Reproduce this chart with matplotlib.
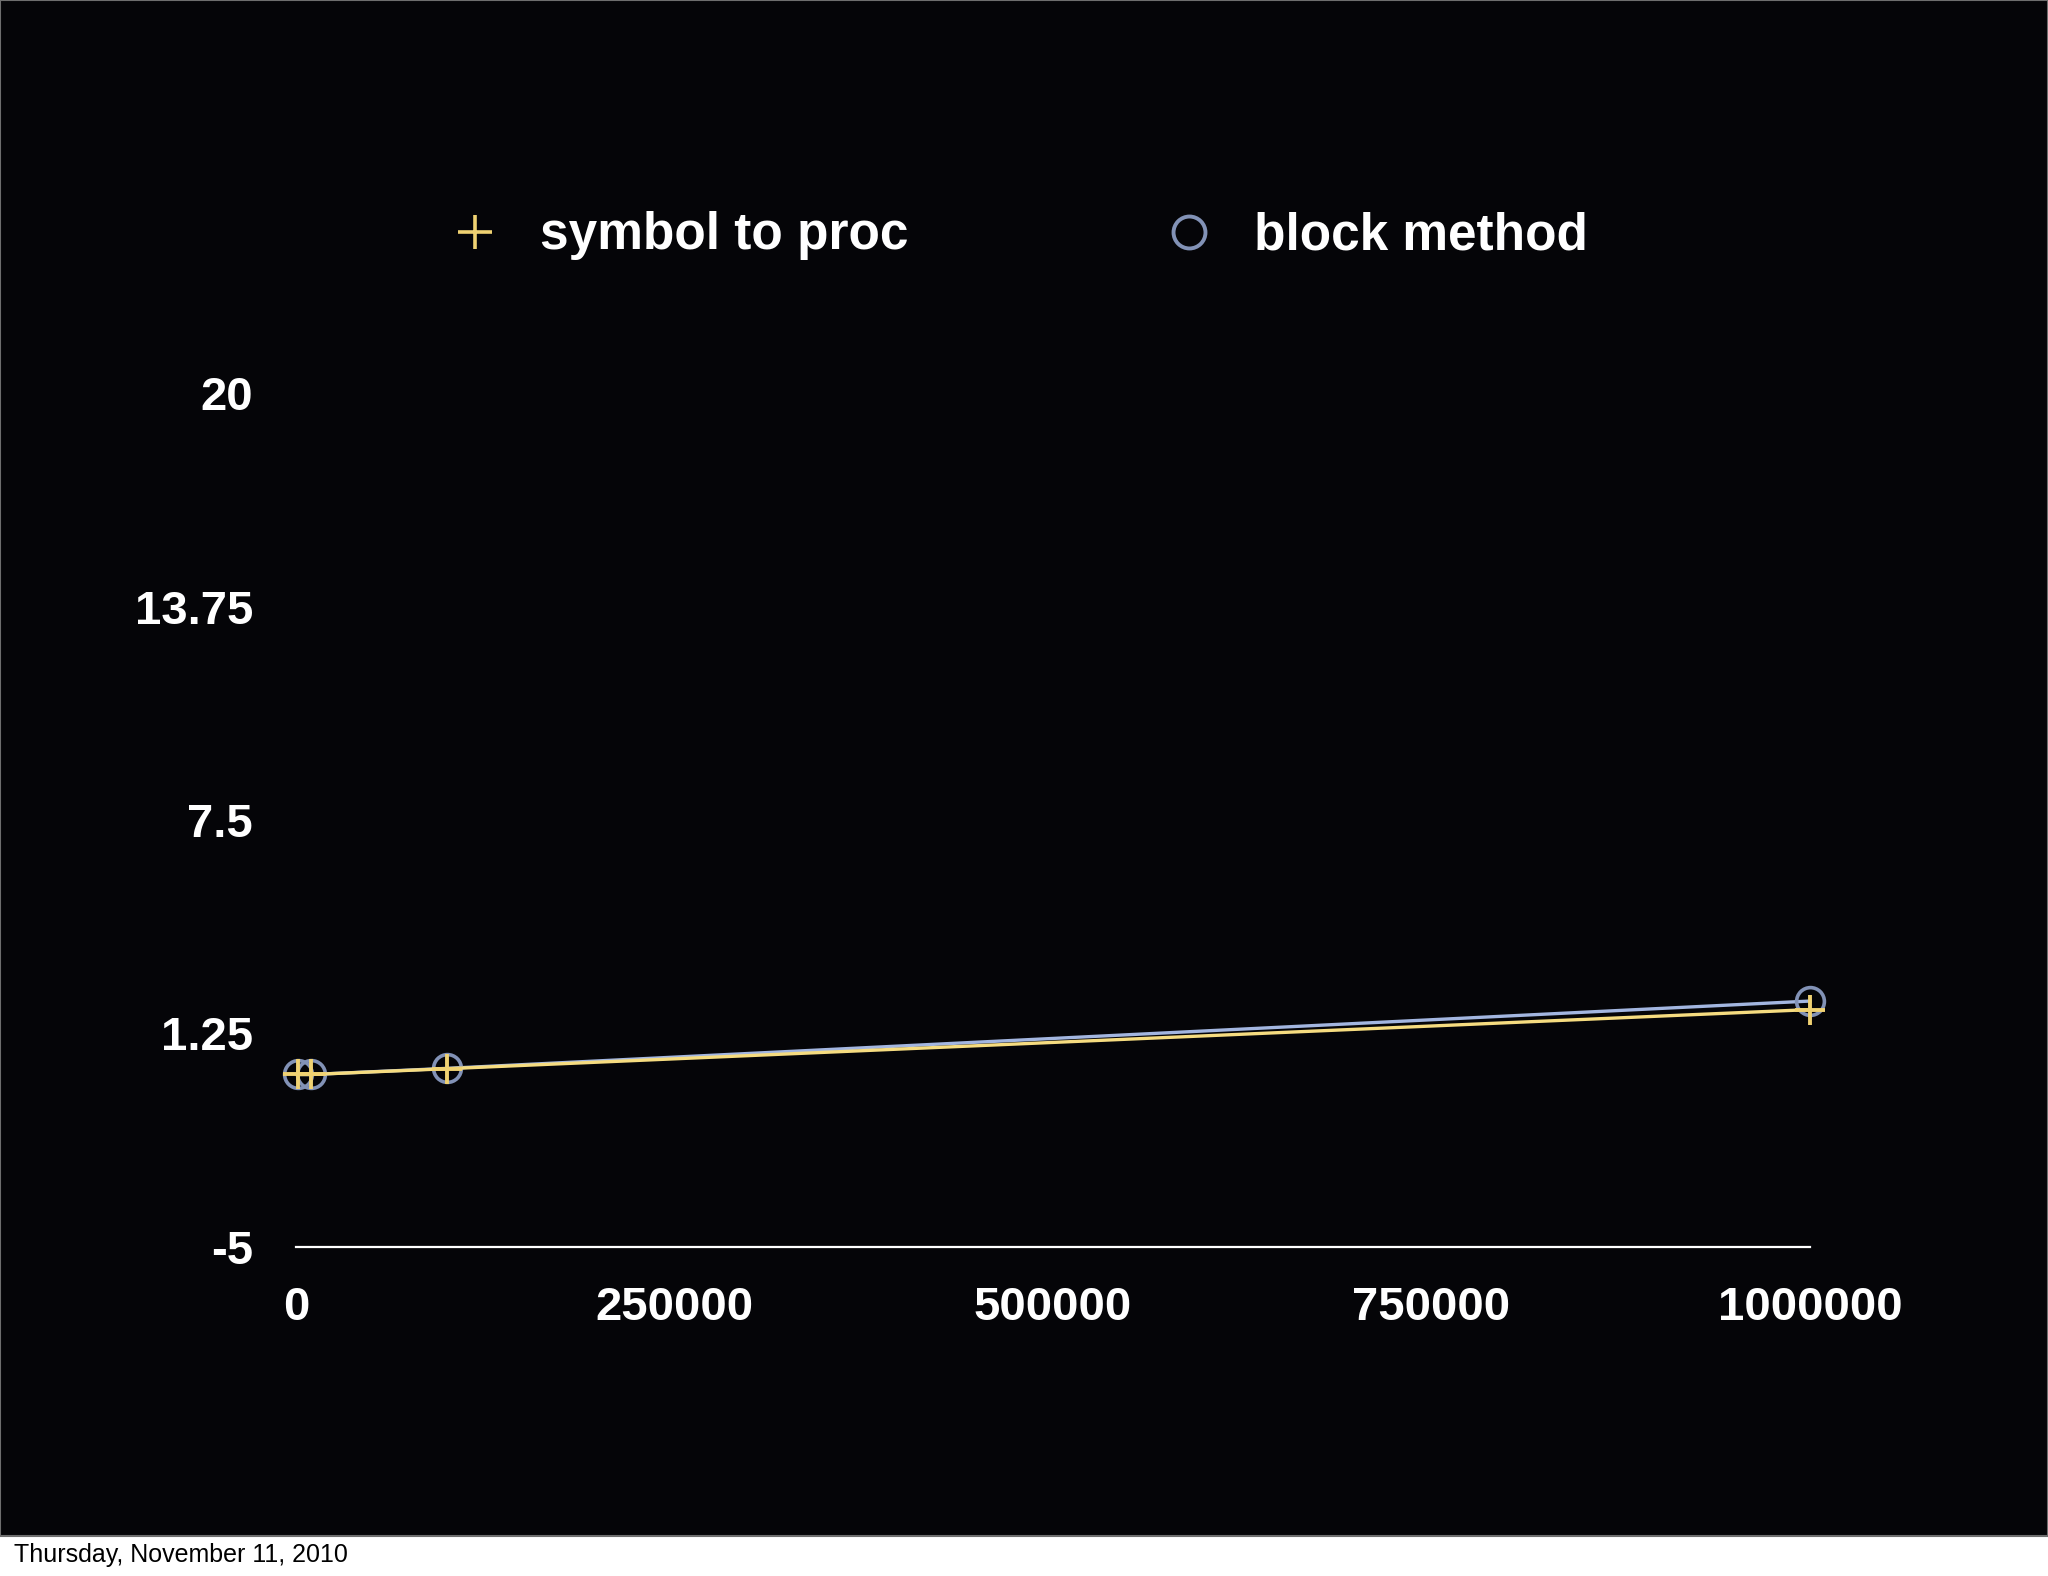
import matplotlib
matplotlib.use("Agg")
import matplotlib.pyplot as plt
from matplotlib.lines import Line2D
from matplotlib.patches import Rectangle

plt.rcParams['font.family'] = ['Liberation Sans', 'DejaVu Sans']

# data
sizes = [1000, 10000, 100000, 1000000]
symbol_to_proc = [0.05, 0.05, 0.22, 1.95]
block_method = [0.05, 0.05, 0.23, 2.2]
y_ticks = [-5, 1.25, 7.5, 13.75, 20]
y_labels = ['-5', '1.25', '7.5', '13.75', '20']
x_ticks = [0, 250000, 500000, 750000, 1000000]
x_labels = ['0', '250000', '500000', '750000', '1000000']
footer = 'Thursday, November 11, 2010'

W, H = 2048, 1576
fig = plt.figure(figsize=(W / 100, H / 100), dpi=100, facecolor='white')

# black slide area + footer strip
fig.patches.append(Rectangle((0, 40 / H), 1, 1 - 40 / H, transform=fig.transFigure,
                             facecolor='#050508', edgecolor='#6e6e6e', linewidth=1.5, zorder=-5))
fig.text(14 / W, 1 - 1555 / H, footer, fontsize=18, color='black', va='center', ha='left')

ax = fig.add_axes([296 / W, 1 - 1247 / H, (1810 - 296) / W, (1247 - 393) / H])
ax.set_facecolor('none')
ax.set_zorder(2)

blue_line = '#a3b6e0'
blue_mark = '#8292b6'
yellow_line = '#f6dc80'
yellow_mark = '#f0d272'

ax.plot(sizes, block_method, color=blue_line, lw=2.4, zorder=3, clip_on=False)
ax.plot(sizes, block_method, ls='none', marker='o', ms=20, mfc='none',
        mec=blue_mark, mew=2.6, zorder=3, clip_on=False)
ax.plot(sizes, symbol_to_proc, color=yellow_line, lw=2.4, zorder=4, clip_on=False)
ax.plot(sizes, symbol_to_proc, ls='none', marker='+', ms=21, mec=yellow_mark,
        mew=2.8, zorder=5, clip_on=False)

ax.set_xlim(0, 1000000)
ax.set_ylim(-5, 20)
ax.set_xticks(x_ticks)
ax.set_xticklabels(x_labels)
ax.set_yticks(y_ticks)
ax.set_yticklabels(y_labels)
ax.tick_params(axis='x', length=0, pad=28, labelsize=34, labelcolor='white')
ax.tick_params(axis='y', length=0, pad=31, labelsize=34, labelcolor='white')
for lab in ax.get_xticklabels() + ax.get_yticklabels():
    lab.set_fontweight('bold')

for s in ['top', 'right', 'left']:
    ax.spines[s].set_visible(False)
ax.spines['bottom'].set_color('white')
ax.spines['bottom'].set_linewidth(1.6)

handles = [
    Line2D([], [], ls='none', marker='+', ms=24, mec=yellow_mark, mew=2.6),
    Line2D([], [], ls='none', marker='o', ms=23, mfc='none', mec=blue_mark, mew=2.8),
]
leg = ax.legend(handles, ['symbol to proc', 'block method'], ncol=2, frameon=False,
                loc='center left', bbox_to_anchor=(452 / W, 1 - 236 / H),
                bbox_transform=fig.transFigure, borderaxespad=0, borderpad=0,
                handlelength=0.9, handletextpad=0.82, columnspacing=5.0,
                prop={'size': 37, 'weight': 'bold'})
for t in leg.get_texts():
    t.set_color('white')

fig.savefig('out.png', dpi=100, facecolor=fig.get_facecolor())
